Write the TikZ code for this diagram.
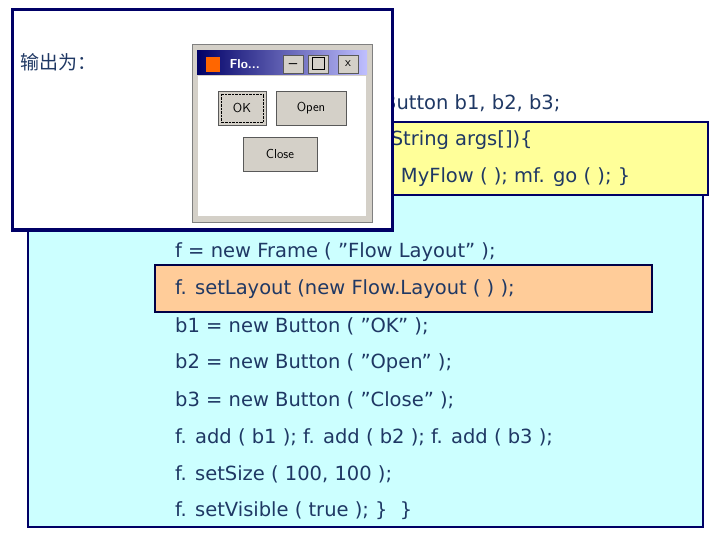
\documentclass[tikz,border=0pt]{standalone}
\usepackage{fontspec}
\setmainfont{DejaVu Sans}
\newfontfamily\cjk{Noto Sans CJK SC}
\definecolor{codeblue}{HTML}{1F3864}
\definecolor{boxblue}{HTML}{000066}
\definecolor{cyanbg}{HTML}{CCFFFF}
\definecolor{yellowbg}{HTML}{FFFF99}
\definecolor{orangebg}{HTML}{FFCC99}
\definecolor{winGray}{HTML}{D4D0C8}
\begin{document}
\begin{tikzpicture}[x=1pt,y=-1pt,
  code/.style={anchor=west,inner sep=0pt,text=codeblue,font=\fontsize{19.5}{20}\selectfont},
  btn/.style={draw=gray!70!black,fill=winGray,inner sep=0pt,font=\fontsize{13}{14}\selectfont\sffamily},
  every node/.style={transform shape}]
\useasboundingbox (0,0) rectangle (720,540);
% code panels
\draw[boxblue,line width=2.5pt,fill=cyanbg] (28,195) rectangle (703,527);
\draw[boxblue,line width=2.5pt,fill=yellowbg] (245,122) rectangle (708,195);
\draw[boxblue!70!black,line width=2pt,fill=orangebg] (155,265) rectangle (652,312);
\node[code] (l0) at (383,103) {Button b1, b2, b3;};
\node[code] (l1) at (383,140) {(String args[])\{};
\node[code] (l2) at (383,177) {y MyFlow ( ); mf. go ( ); \}};
\node[code] (c1) at (175,252) {f = new Frame ( "Flow Layout" );};
\node[code] (c2) at (175,289) {f. setLayout (new Flow.Layout ( ) );};
\node[code] (c3) at (175,326) {b1 = new Button ( "OK" );};
\node[code] (c4) at (175,363) {b2 = new Button ( "Open" );};
\node[code] (c5) at (175,400) {b3 = new Button ( "Close" );};
\node[code] (c6) at (175,437) {f. add ( b1 ); f. add ( b2 ); f. add ( b3 );};
\node[code] (c7) at (175,474) {f. setSize ( 100, 100 );};
\node[code] (c8) at (175,511) {f. setVisible ( true ); \}~~\}};
% output panel
\draw[boxblue,line width=3pt,fill=white] (12,10) rectangle (392,230);
\node[code,font=\cjk\fontsize{19}{20}\selectfont] (out) at (20,62) {输出为：};
% window
\draw[gray,fill=winGray] (192,44) rectangle (372,222);
\fill[white] (198,76) rectangle (366,216);
\shade[left color=boxblue,right color=blue!25] (197,51) rectangle (367,75);
\node[anchor=west,text=white,font=\bfseries\fontsize{13}{14}\selectfont\sffamily] (title) at (226,64) {Flo...};
\fill[orange!80!red] (206,57) rectangle (220,72);
\node[btn,minimum width=20pt,minimum height=18pt] (min) at (293,64) {\_};
\node[btn,minimum width=20pt,minimum height=18pt] (max) at (318,64) {};
\draw[line width=1pt] (312,58) rectangle (324,70);
\node[btn,minimum width=20pt,minimum height=18pt] (cls) at (348,64) {x};
\node[btn,minimum width=48pt,minimum height=34pt] (ok) at (242,108) {OK};
\draw[densely dotted] ([shift={(3,3)}]ok.north west) rectangle ([shift={(-3,-3)}]ok.south east);
\node[btn,minimum width=70pt,minimum height=34pt] (open) at (311,108) {Open};
\node[btn,minimum width=74pt,minimum height=34pt] (close) at (280,154) {Close};
\end{tikzpicture}
\end{document}
